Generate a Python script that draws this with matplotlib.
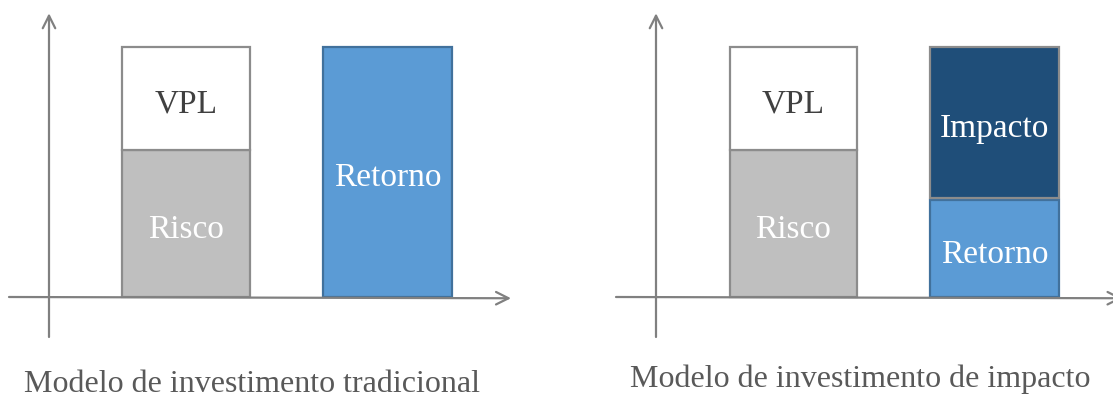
import matplotlib.pyplot as plt

plt.rcParams['font.family'] = ['Liberation Serif', 'DejaVu Serif']

# Stacked blocks for the two models (arbitrary units, top of stack = 10)
trad_labels = ["Risco", "VPL"]
trad_stack = [5.9, 4.1]
trad_return = [10.0]

impact_labels = ["Retorno", "Impacto"]
impact_stack = [3.9, 6.1]

captions = ["Modelo de investimento tradicional", "Modelo de investimento de impacto"]

GRAY_EDGE = "#8c8c8c"
AXIS_COLOR = "#808080"
TEXT_DARK = "#404040"
CAPTION_COLOR = "#595959"
LABEL_SIZE = 24
# baseline sits a bit below the block centre so the capitals look centred
BASE_SHIFT = 0.58

fig = plt.figure(figsize=(11.13, 3.94), dpi=100)


def make_panel(rect):
    ax = fig.add_axes(rect)
    ax.set_xlim(0, 556.5)
    ax.set_ylim(-3.88, 11.88)
    ax.axis("off")
    return ax


def draw_axes(ax, y_x, x_start, x_end):
    # vertical arrow
    ax.annotate("", xy=(y_x, 11.35), xytext=(y_x, -1.6),
                arrowprops=dict(arrowstyle="->,head_length=0.9,head_width=0.45",
                                color=AXIS_COLOR, lw=1.6, shrinkA=0, shrinkB=0))
    # horizontal arrow
    ax.annotate("", xy=(x_end, -0.05), xytext=(x_start, 0.0),
                arrowprops=dict(arrowstyle="->,head_length=0.9,head_width=0.45",
                                color=AXIS_COLOR, lw=1.6, shrinkA=0, shrinkB=0),
                annotation_clip=False)


def label(ax, x, y, s, color):
    ax.text(x, y - BASE_SHIFT, s, ha="center", va="baseline",
            color=color, fontsize=LABEL_SIZE)


def risk_vpl_bar(ax, x, width):
    risco, vpl = trad_stack
    ax.bar(x, risco, width=width, color="#bfbfbf", edgecolor=GRAY_EDGE, lw=1.6)
    ax.bar(x, vpl, width=width, bottom=risco, color="white", edgecolor=GRAY_EDGE, lw=1.6)
    label(ax, x, risco / 2, trad_labels[0], "white")
    label(ax, x, risco + vpl / 2, trad_labels[1], TEXT_DARK)


# Traditional model
ax1 = make_panel([0, 0, 0.5, 1])
draw_axes(ax1, 49, 9, 511)
risk_vpl_bar(ax1, 186, 128)
ax1.bar(387.5, trad_return[0], width=129, color="#5b9bd5", edgecolor="#41719c", lw=1.6)
label(ax1, 387.5, trad_return[0] / 2, "Retorno", "white")
ax1.text(252, -3.8, captions[0], ha="center", va="baseline",
         color=CAPTION_COLOR, fontsize=23)

# Impact model
ax2 = make_panel([0.5, 0, 0.5, 1])
draw_axes(ax2, 99.5, 59.5, 566)
risk_vpl_bar(ax2, 237, 127)
ret, imp = impact_stack
gap = 0.08
ax2.bar(438, ret, width=129, color="#5b9bd5", edgecolor="#41719c", lw=1.6)
ax2.bar(438, imp - gap, width=129, bottom=ret + gap, color="#1f4e79",
        edgecolor=GRAY_EDGE, lw=1.6)
label(ax2, 438, ret / 2, impact_labels[0], "white")
label(ax2, 438, ret + gap + (imp - gap) / 2, impact_labels[1], "white")
ax2.text(304, -3.6, captions[1], ha="center", va="baseline",
         color=CAPTION_COLOR, fontsize=23)

fig.savefig("out.png", dpi=100)
